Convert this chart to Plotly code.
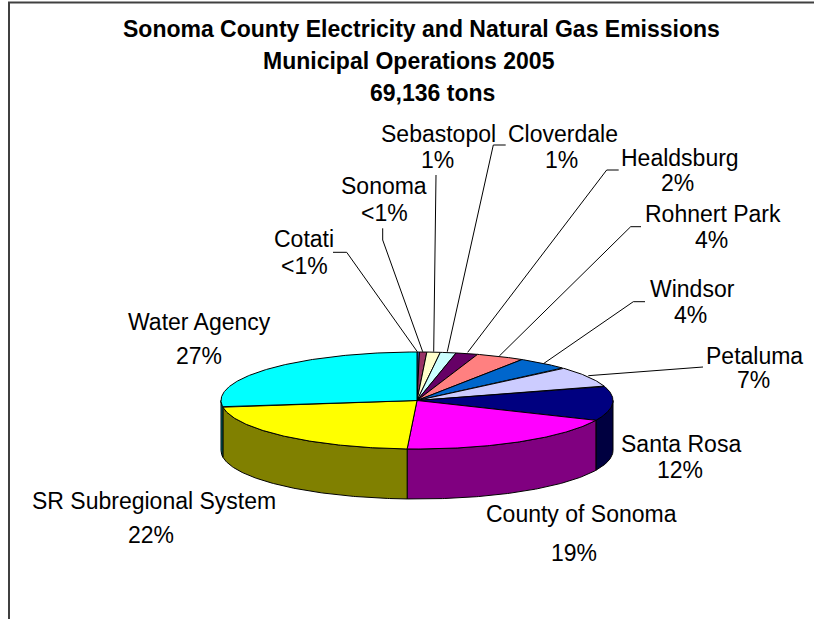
import math
import plotly.graph_objects as go

# Data: clockwise from 12 o'clock
categories = ["Cotati", "Sonoma", "Sebastopol", "Cloverdale", "Healdsburg", "Rohnert Park",
              "Windsor", "Petaluma", "Santa Rosa", "County of Sonoma", "SR Subregional System", "Water Agency"]
values = [0.2, 0.6, 1.1, 1.3, 1.8, 4.0, 4.3, 6.9, 11.5, 19.1, 22.0, 27.2]
pct_labels = ["<1%", "<1%", "1%", "1%", "2%", "4%", "4%", "7%", "12%", "19%", "22%", "27%"]
title_lines = ["Sonoma County Electricity and Natural Gas Emissions", "Municipal Operations 2005", "69,136 tons"]

# Styles
top_colors = ["#3366CC", "#993366", "#FFFFCC", "#CCFFFF", "#660066", "#FF8080",
              "#0066CC", "#CCCCFF", "#000080", "#FF00FF", "#FFFF00", "#00FFFF"]
side_colors = ["#1A3366", "#4D1A33", "#808066", "#668080", "#330033", "#804040",
               "#003366", "#666680", "#000040", "#800080", "#808000", "#008080"]

# Layout (pixel-like axes)
W, H = 814, 619
CX, CY, RX, RY, DEPTH = 417.0, 400.5, 196.0, 48.5, 50.0
FONT = "Liberation Sans, Arial, sans-serif"
LABEL_SIZE = 23
TITLE_SIZE = 23

title_pos = [(421.5, 29), (409, 61), (432, 93)]
name_pos = [(304, 239), (384, 186), (438, 134), (563, 134), (680, 158), (713, 214),
            (692, 289), (754, 356), (681, 444), (581, 514), (154, 501), (199, 322)]
pct_pos = [(304, 266), (384, 213), (437, 160), (561, 160), (677, 183), (711, 240),
           (690, 315), (753, 380), (680, 470), (574, 553), (151, 535), (199, 356)]
leaders = [
    [(333, 252.3), (346.7, 252.3), (417.3, 351.7)],
    [(382.7, 228.3), (382.7, 240), (422.7, 351.7)],
    [(436, 175), (433.7, 351.7)],
    [(505.7, 145), (493.3, 145), (447.3, 351.7)],
    [(618.7, 170), (606.7, 170), (467.7, 352.3)],
    [(641, 226.7), (630.7, 226.7), (499.3, 356)],
    [(645, 301.7), (633.3, 301.7), (544, 363.3)],
    [(703, 367), (588.3, 375.7)],
]


def pt(theta, dy=0.0):
    return CX + RX * math.sin(theta), CY - RY * math.cos(theta) + dy


def arc(a, b):
    n = max(2, int(abs(b - a) / 0.01))
    return [a + (b - a) * i / n for i in range(n + 1)]


fig = go.Figure()
total = sum(values)
edges = [0.0]
for v in values:
    edges.append(edges[-1] + v / total * 2 * math.pi)


def poly(points, color):
    fig.add_trace(go.Scatter(
        x=[p[0] for p in points], y=[p[1] for p in points], mode="lines",
        fill="toself", fillcolor=color, line=dict(color="black", width=1),
        hoverinfo="skip", showlegend=False))


# Outer wall: only the front half of the ellipse is visible
for i in range(len(values)):
    a = max(edges[i], math.pi / 2)
    b = min(edges[i + 1], 3 * math.pi / 2)
    if b > a:
        ts = arc(a, b)
        pts = [pt(t) for t in ts] + [pt(t, DEPTH) for t in reversed(ts)]
        pts.append(pts[0])
        poly(pts, side_colors[i])

# Top face
for i in range(len(values)):
    pts = [(CX, CY)] + [pt(t) for t in arc(edges[i], edges[i + 1])] + [(CX, CY)]
    poly(pts, top_colors[i])

# Leader lines
for seg in leaders:
    fig.add_trace(go.Scatter(x=[p[0] for p in seg], y=[p[1] for p in seg], mode="lines",
                             line=dict(color="black", width=1), hoverinfo="skip", showlegend=False))

ann = []
for txt, (x, y) in zip(title_lines, title_pos):
    ann.append(dict(x=x, y=y, text=f"<b>{txt}</b>", showarrow=False, xref="x", yref="y",
                    font=dict(family=FONT, size=TITLE_SIZE, color="black")))
for name, pct, np_, pp in zip(categories, pct_labels, name_pos, pct_pos):
    ann.append(dict(x=np_[0], y=np_[1], text=name, showarrow=False, xref="x", yref="y",
                    font=dict(family=FONT, size=LABEL_SIZE, color="black")))
    ann.append(dict(x=pp[0], y=pp[1], text=pct, showarrow=False, xref="x", yref="y",
                    font=dict(family=FONT, size=LABEL_SIZE, color="black")))

shapes = [
    dict(type="line", x0=8, y0=2.5, x1=W, y1=2.5, xref="x", yref="y", line=dict(color="#404040", width=2)),
    dict(type="line", x0=9, y0=2, x1=9, y1=H, xref="x", yref="y", line=dict(color="#404040", width=2)),
]

fig.update_layout(
    width=W, height=H, margin=dict(l=0, r=0, t=0, b=0),
    paper_bgcolor="white", plot_bgcolor="white",
    xaxis=dict(range=[0, W], visible=False, fixedrange=True),
    yaxis=dict(range=[H, 0], visible=False, fixedrange=True),
    annotations=ann, shapes=shapes,
)
fig.write_html("out.html", config={"displayModeBar": False},
               post_script="document.body.style.margin='0';document.documentElement.style.overflow='hidden';")
